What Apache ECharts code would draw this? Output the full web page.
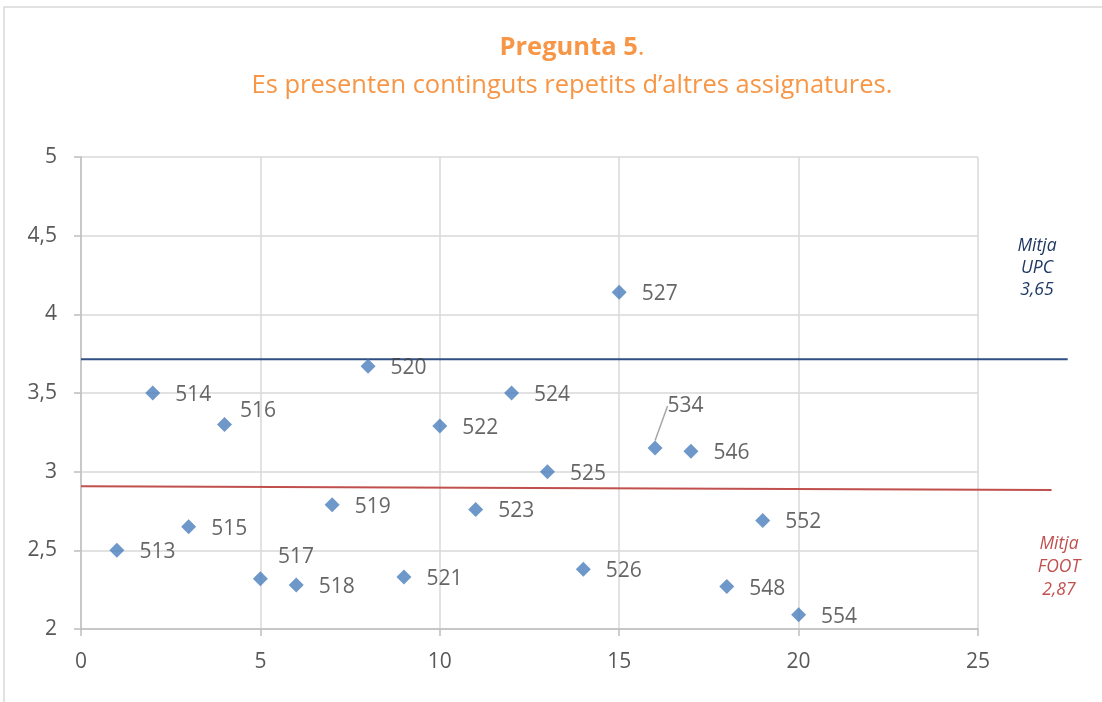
<!DOCTYPE html>
<html>
<head>
<meta charset="utf-8">
<script src="https://cdn.jsdelivr.net/npm/echarts@6/dist/echarts.min.js"></script>
<style>
html,body{margin:0;padding:0;background:#fff;}
#chart{width:1102px;height:702px;}
</style>
</head>
<body>
<div id="chart"></div>
<script>
// ---- data ----
const titleBold = 'Pregunta 5';
const titleLine2 = 'Es presenten continguts repetits d\u2019altres assignatures.';
const pointX = [1,2,3,4,5,6,7,8,9,10,11,12,13,14,15,16,17,18,19,20];
const pointY = [2.50,3.50,2.65,3.30,2.32,2.28,2.79,3.67,2.33,3.29,2.76,3.50,3.00,2.38,4.14,3.15,3.13,2.27,2.69,2.09];
const pointLabels = ['513','514','515','516','517','518','519','520','521','522','523','524','525','526','527','534','546','548','552','554'];
const upcLineX = [0, 27.5];
const upcLineY = [3.715, 3.715];
const footLineX = [0, 27.05];
const footLineY = [2.908, 2.883];
const upcText = ['Mitja', 'UPC', '3,65'];
const footText = ['Mitja', 'FOOT', '2,87'];
const xTicks = [0, 5, 10, 15, 20, 25];
const yTicks = ['2', '2,5', '3', '3,5', '4', '4,5', '5'];

// label displacements (style)
const labelShift = { '516': [-7, -13], '517': [-5, -22], '534': [-10, -42] };

const FONT = '"Open Sans", sans-serif';
const chart = echarts.init(document.getElementById('chart'), null, {renderer: 'canvas'});

const scatterData = pointX.map((x, i) => {
  const item = { value: [x, pointY[i]], name: pointLabels[i] };
  if (pointLabels[i] === '534') item.labelLine = { show: true, lineStyle: { color: '#a6a6a6', width: 1.5 } };
  return item;
});

// main plot: 0..25 over 897px; extended overlay grid keeps same scale to 27.5
const plotLeft = 81, plotRight = 978;
const pxPerUnit = (plotRight - plotLeft) / 25;
const extMax = 27.5;
const extRight = 1102 - (plotLeft + extMax * pxPerUnit);

const option = {
  backgroundColor: '#fff',
  animation: false,
  grid: [
    { left: plotLeft, right: 1102 - plotRight, top: 157, bottom: 73, containLabel: false },
    { left: plotLeft, right: extRight, top: 157, bottom: 73, containLabel: false }
  ],
  xAxis: [{
    type: 'value', min: 0, max: 25, interval: 5, gridIndex: 0,
    axisLine: { show: true, lineStyle: { color: '#bfbfbf', width: 1.5 } },
    axisTick: { show: true, length: 7, lineStyle: { color: '#bfbfbf', width: 1.5 } },
    splitLine: { show: true, lineStyle: { color: '#d9d9d9', width: 1.5 } },
    axisLabel: { margin: 23, fontFamily: FONT, fontSize: 21, color: '#595959',
      formatter: v => String(xTicks[xTicks.indexOf(v)]) }
  }, {
    type: 'value', min: 0, max: extMax, gridIndex: 1, show: false,
    splitLine: { show: false }
  }],
  yAxis: [{
    type: 'value', min: 2, max: 5, interval: 0.5, gridIndex: 0,
    axisLine: { show: true, lineStyle: { color: '#bfbfbf', width: 1.5 } },
    axisTick: { show: true, length: 7, lineStyle: { color: '#bfbfbf', width: 1.5 } },
    splitLine: { show: true, lineStyle: { color: '#d9d9d9', width: 1.5 } },
    axisLabel: { margin: 24, fontFamily: FONT, fontSize: 21, color: '#595959',
      formatter: v => yTicks[Math.round((v - 2) / 0.5)] }
  }, {
    type: 'value', min: 2, max: 5, gridIndex: 1, show: false,
    splitLine: { show: false }
  }],
  series: [
    {
      type: 'line', xAxisIndex: 1, yAxisIndex: 1,
      data: upcLineX.map((x, i) => [x, upcLineY[i]]),
      symbol: 'none', silent: true,
      lineStyle: { color: '#2F4F85', width: 2 }, z: 2
    },
    {
      type: 'line', xAxisIndex: 1, yAxisIndex: 1,
      data: footLineX.map((x, i) => [x, footLineY[i]]),
      symbol: 'none', silent: true,
      lineStyle: { color: '#C0504D', width: 2 }, z: 2
    },
    {
      type: 'scatter', xAxisIndex: 0, yAxisIndex: 0,
      data: scatterData, symbol: 'diamond', symbolSize: 15,
      itemStyle: { color: '#4A7EBB' }, z: 5,
      label: {
        show: true, position: 'right', distance: 15,
        formatter: p => p.name,
        fontFamily: FONT, fontSize: 21, color: '#404040'
      },
      labelLine: { show: false },
      labelLayout: function (params) {
        const s = labelShift[pointLabels[params.dataIndex]];
        return s ? { dx: s[0], dy: s[1] } : { dy: 2 };
      }
    }
  ],
  graphic: [
    { type: 'rect', x: 4, y: 7, shape: { width: 1110, height: 710 }, style: { fill: 'none', stroke: '#d9d9d9', lineWidth: 1.5 }, silent: true },
    { type: 'text', x: 572, y: 29, style: {
        text: '{b|' + titleBold + '}{r|.}\n{r|' + titleLine2 + '}',
        align: 'center', verticalAlign: 'top',
        rich: {
          b: { fontFamily: FONT, fontSize: 25.5, fontWeight: 'bold', fill: '#F79646', lineHeight: 38, align: 'center' },
          r: { fontFamily: FONT, fontSize: 25.5, fontWeight: 'normal', fill: '#F79646', lineHeight: 38, align: 'center' }
        }
      }, silent: true },
    { type: 'text', x: 1037, y: 235, style: { text: upcText.join('\n'), align: 'center', verticalAlign: 'top', fontFamily: FONT, fontStyle: 'italic', fontSize: 17.5, lineHeight: 22, fill: '#1F3864' } },
    { type: 'text', x: 1059, y: 533, style: { text: footText.join('\n'), align: 'center', verticalAlign: 'top', fontFamily: FONT, fontStyle: 'italic', fontSize: 17.5, lineHeight: 23, fill: '#C0504D' } }
  ]
};
chart.setOption(option);
</script>
</body>
</html>
